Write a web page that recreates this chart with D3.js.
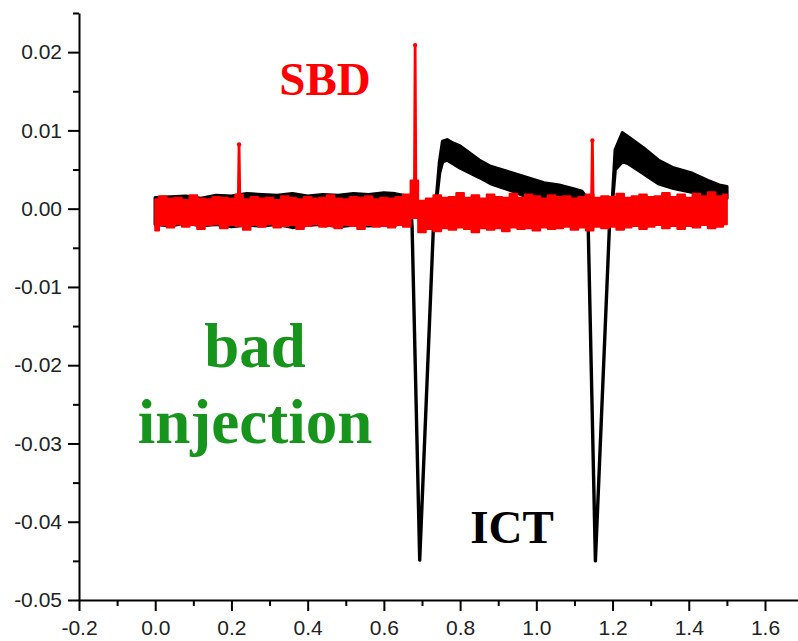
<!DOCTYPE html>
<html><head><meta charset="utf-8">
<script src="https://cdn.jsdelivr.net/npm/d3@7"></script>
<style>html,body{margin:0;padding:0;background:#fff;} svg{display:block}</style>
</head><body><svg id="c" width="798" height="641"></svg>
<script>
// ---- data (signal values in units of 1e-3) ----
const sbdX = [0,0.02,0.04,0.06,0.08,0.10,0.12,0.14,0.16,0.18,0.20,0.22,0.24,0.26,0.28,0.30,0.32,0.34,0.36,0.38,
  0.40,0.42,0.44,0.46,0.48,0.50,0.52,0.54,0.56,0.58,0.60,0.62,0.64,0.66,0.68,0.70,0.72,0.74,0.76,0.78,
  0.80,0.82,0.84,0.86,0.88,0.90,0.92,0.94,0.96,0.98,1.00,1.02,1.04,1.06,1.08,1.10,1.12,1.14,1.16,1.18,
  1.20,1.22,1.24,1.26,1.28,1.30,1.32,1.34,1.36,1.38,1.40,1.42,1.44,1.46,1.48,1.50];
const sbdHi = [1.2,1.6,1.3,1.4,1.1,1.7,1.3,1.2,1.5,1.4, 1.3,1.8,1.2,1.5,1.3,1.4,1.1,1.6,1.4,1.2,
  1.5,1.3,1.4,1.7,1.3,1.2,1.5,1.4,1.6,1.2, 1.4,1.3,1.5,1.8,3.6,1.0,1.3,1.7,1.4,1.5,
  2.0,1.4,1.7,1.3,1.8,1.5,1.4,1.9,1.4,1.8, 1.6,1.3,1.7,1.5,1.6,1.3,1.5,1.8,1.4,1.6,
  1.5,1.9,1.4,1.6,1.8,1.5,1.6,2.0,1.5,1.8, 1.4,1.9,1.6,2.1,1.6,1.8];
const sbdLo = [-2.8,-2.1,-2.4,-2.0,-2.3,-2.1,-2.6,-2.1,-2.0,-2.5, -2.1,-2.2,-2.7,-2.1,-2.3,-2.0,-2.4,-2.2,-2.1,-2.6,
  -2.2,-2.0,-2.3,-2.2,-2.5,-2.1,-2.2,-2.6,-2.1,-2.3, -2.2,-2.4,-2.1,-2.3,-1.2,-3.0,-2.6,-2.9,-2.5,-2.7,
  -2.4,-2.6,-3.0,-2.5,-2.7,-2.5,-2.9,-2.4,-2.6,-2.5, -2.8,-2.4,-2.6,-2.5,-2.3,-2.7,-2.4,-2.8,-2.3,-2.5,
  -2.3,-2.7,-2.4,-2.2,-2.6,-2.3,-2.1,-2.5,-2.2,-2.6, -2.2,-2.4,-2.1,-2.5,-2.3,-2.0];
const sbdSpikeX = [0.22, 0.682, 1.147];
const sbdSpikePeak = [8.2, 20.9, 8.7];

const ictX = [0.00,0.04,0.08,0.12,0.16,0.20,0.24,0.28,0.32,0.36,0.40,0.44,0.48,0.52,0.56,0.60,0.63,0.66,0.670,0.674,
  0.694,0.730,0.738,0.746,0.754,0.766,0.780,0.800,0.850,0.880,0.940,0.980,1.020,1.060,1.100,1.120,1.130,1.136,1.155,1.192,
  1.200,1.207,1.226,1.240,1.280,1.320,1.360,1.410,1.450,1.480,1.500];
const ictHi = [1.4,1.5,1.6,1.3,1.7,1.6,1.9,1.8,1.7,1.9, 1.6,1.8,1.7,1.9,1.8,2.0,1.9,1.6,0.5,-2.3,
  -44.9,-2.3,1.5,6.0,8.6,8.8,8.4,8.0,6.2,5.4, 4.5,3.9,3.3,3.0,2.5,2.2,1.5,-2.1,-45.0,-2.1,
  1.5,7.5,9.7,9.2,7.8,6.2,5.2,4.5,3.6,3.0, 2.8];
const ictLo = [-2.0,-2.2,-1.8,-2.2,-2.0,-2.3,-2.1,-2.2,-2.0,-2.4, -2.1,-2.0,-2.3,-2.1,-2.2,-2.0,-2.1,-1.5,-0.5,-2.3,
  -44.9,-2.3,1.0,4.5,6.0,6.2,5.8,5.2,4.0,3.2, 2.2,1.4,0.8,0.4,0.0,-1.0,-1.5,-2.1,-45.0,-2.1,
  1.0,5.0,6.0,5.8,4.5,3.2,2.6,2.1,1.6,1.4, 1.3];

const xMajor = [-0.2,0,0.2,0.4,0.6,0.8,1.0,1.2,1.4,1.6];
const xLabels = ["-0.2","0.0","0.2","0.4","0.6","0.8","1.0","1.2","1.4","1.6"];
const xMinor = [-0.1,0.1,0.3,0.5,0.7,0.9,1.1,1.3,1.5];
const yMajor = [-0.05,-0.04,-0.03,-0.02,-0.01,0,0.01,0.02];
const yLabels = ["-0.05","-0.04","-0.03","-0.02","-0.01","0.00","0.01","0.02"];
const yMinor = [-0.045,-0.035,-0.025,-0.015,-0.005,0.005,0.015,0.025];

// ---- drawing ----
const svg = d3.select("#c");
const x = d3.scaleLinear().domain([-0.2, 1.6866]).range([79, 798]);
const y = d3.scaleLinear().domain([-0.05, 0.025]).range([600, 13]);
const k = 1e-3;

const ict = ictX.map((v,i)=>({x:v, hi:ictHi[i], lo:ictLo[i]}));
const sbd = sbdX.map((v,i)=>({x:v, hi:sbdHi[i], lo:sbdLo[i]}));
const area = d3.area().x(d=>x(d.x)).y0(d=>y(d.lo*k)).y1(d=>y(d.hi*k));
const stepArea = d3.area().curve(d3.curveStep).x(d=>x(d.x)).y0(d=>y(d.lo*k)).y1(d=>y(d.hi*k));

svg.append("path").datum(ict).attr("d", area)
  .attr("fill","#000").attr("stroke","#000").attr("stroke-width",3.4).attr("stroke-linejoin","round");
svg.append("path").datum(sbd).attr("d", stepArea)
  .attr("fill","#f00").attr("stroke","#f00").attr("stroke-width",2).attr("stroke-linejoin","round");

const line = d3.line().x(d=>x(d[0])).y(d=>y(d[1]*k));
sbdSpikeX.forEach((sx,i)=>{
  svg.append("path").datum([[sx-0.002,1.2],[sx,sbdSpikePeak[i]],[sx+0.002,1.2]])
    .attr("d", line).attr("fill","#f00").attr("stroke","#f00").attr("stroke-width",2.8).attr("stroke-linejoin","round");
  svg.append("circle").attr("cx",x(sx)).attr("cy",y(sbdSpikePeak[i]*k)).attr("r",2.2).attr("fill","#f00");
});

// axes
function styleAxis(g){
  g.selectAll("path,line").attr("stroke","#000").attr("stroke-width",2);
  g.selectAll("text").attr("fill","#222").style("font-family","'Liberation Sans', Arial, sans-serif").style("font-size","21px");
}
const yAxis = d3.axisLeft(y).tickValues(yMajor).tickFormat((d,i)=>yLabels[i]).tickSize(11).tickSizeOuter(0).tickPadding(6);
const yMin = d3.axisLeft(y).tickValues(yMinor).tickFormat("").tickSize(6).tickSizeOuter(0);
const xAxis = d3.axisBottom(x).tickValues(xMajor).tickFormat((d,i)=>xLabels[i]).tickSize(11).tickSizeOuter(0).tickPadding(9);
const xMin = d3.axisBottom(x).tickValues(xMinor).tickFormat("").tickSize(6).tickSizeOuter(0);

svg.append("g").attr("transform","translate(79,0)").call(yMin).call(styleAxis).select(".domain").remove();
svg.append("g").attr("transform","translate(0,600)").call(xMin).call(styleAxis).select(".domain").remove();
svg.append("g").attr("transform","translate(79,0)").call(yAxis).call(styleAxis);
svg.append("g").attr("transform","translate(0,600)").call(xAxis).call(styleAxis);

// annotations
const serif = "'Liberation Serif','Times New Roman',serif";
function label(t, cx, by, size, color){
  svg.append("text").text(t).attr("x",cx).attr("y",by).attr("text-anchor","middle")
    .style("font-family",serif).style("font-weight","bold").style("font-size",size+"px").attr("fill",color);
}
label("SBD", 325, 95, 47, "#f00");
label("bad", 255, 367, 63, "#17941c");
label("injection", 255, 443, 63, "#17941c");
label("ICT", 512, 543, 47, "#000");
</script>
</body></html>
